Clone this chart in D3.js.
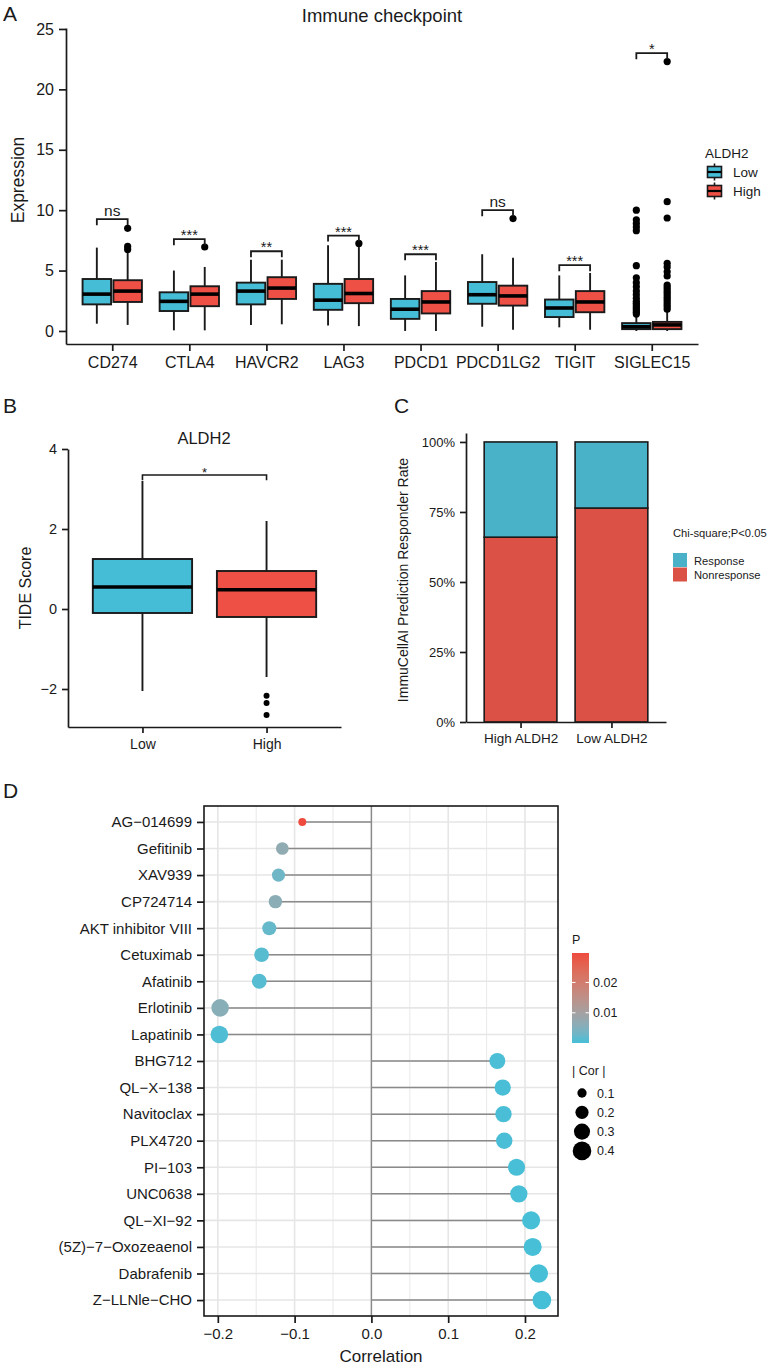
<!DOCTYPE html>
<html><head><meta charset="utf-8">
<script src="https://cdn.jsdelivr.net/npm/d3@7"></script>
<style>
body{margin:0;background:#fff}
svg{display:block;font-family:"Liberation Sans",Arial,Helvetica,sans-serif}
</style></head><body>
<svg id="c" width="770" height="1365"></svg>
<script>
// ---------------- Panel A data ----------------
const genes = ["CD274","CTLA4","HAVCR2","LAG3","PDCD1","PDCD1LG2","TIGIT","SIGLEC15"];
const groupNames = ["Low","High"];
// [lower whisker, Q1, median, Q3, upper whisker]
const lowBoxes = [
  [0.6,2.2,3.05,4.3,6.9],
  [0.05,1.65,2.45,3.2,5.0],
  [0.5,2.2,3.3,4.0,5.9],
  [0.45,1.75,2.55,3.9,7.1],
  [0.0,1.0,1.8,2.65,4.6],
  [0.35,2.25,3.0,4.05,6.35],
  [0.3,1.15,1.9,2.6,4.6],
  [0.0,0.15,0.35,0.65,1.3]
];
const highBoxes = [
  [0.5,2.4,3.3,4.2,6.5],
  [0.05,2.05,3.05,3.7,5.3],
  [0.55,2.65,3.55,4.45,5.9],
  [0.4,2.3,3.1,4.3,7.0],
  [0.0,1.45,2.4,3.3,5.7],
  [0.1,2.1,2.9,3.75,6.05],
  [0.1,1.55,2.4,3.3,4.8],
  [0.0,0.15,0.5,0.75,1.6]
];
const lowOutliers = [[],[],[],[],[],[],[],
  [10.0,9.2,8.9,8.6,8.3,5.4,4.4,4.0,3.65,3.3,3.0,2.7,2.45,2.3,2.15,2.0,1.85,1.7,1.55,1.4]];
const highOutliers = [[8.5,7.0,6.75],[6.95],[],[7.25],[],[9.3],[],
  [22.3,10.7,9.35,5.6,5.3,4.9,4.55,3.8,3.6,3.4,3.2,3.0,2.8,2.6,2.4,2.2,2.0,1.8]];
const sigLabels = ["ns","***","**","***","***","ns","***","*"];
const sigLevels = [9.25,7.6,6.6,7.9,6.35,10.0,5.45,23.0];
const expressionTicks = [0,5,10,15,20,25];

// ---------------- Panel B data ----------------
const tideGroups = ["Low","High"];
const tideBoxes = [[-2.05,-0.1,0.55,1.25,3.2],[-1.7,-0.2,0.48,0.95,2.2]];
const tideOutliers = [[],[-2.17,-2.35,-2.65]];
const tideSig = "*";
const tideSigLevel = 3.35;
const tideTicks = [-2,0,2,4];

// ---------------- Panel C data ----------------
const respGroups = ["High ALDH2","Low ALDH2"];
const nonresponsePct = [66,76.4];
const responsePct = [34,23.6];
const respTicks = [0,25,50,75,100];
const respLegend = ["Response","Nonresponse"];

// ---------------- Panel D data ----------------
const drugs = ["AG\u2212014699","Gefitinib","XAV939","CP724714","AKT inhibitor VIII","Cetuximab","Afatinib","Erlotinib","Lapatinib","BHG712","QL\u2212X\u2212138","Navitoclax","PLX4720","PI\u2212103","UNC0638","QL\u2212XI\u221292","(5Z)\u22127\u2212Oxozeaenol","Dabrafenib","Z\u2212LLNle\u2212CHO"];
const drugCor = [-0.090,-0.116,-0.121,-0.125,-0.133,-0.143,-0.146,-0.197,-0.198,0.164,0.171,0.172,0.173,0.189,0.192,0.208,0.210,0.218,0.222];
const drugP = [0.0297,0.0068,0.003,0.0062,0.0022,0.0012,0.001,0.0058,0.0006,0.0004,0.0003,0.0003,0.0003,0.0002,0.0002,0.0001,0.0001,0.0001,0.00005];
const corTicks = [-0.2,-0.1,0.0,0.1,0.2];
const corMinor = [-0.15,-0.05,0.05,0.15];
const pTicks = [0.01,0.02];
const sizeLegendVals = [0.1,0.2,0.3,0.4];

// ---------------- styles ----------------
const FONT = '"Liberation Sans", Arial, Helvetica, sans-serif';
const INK = "#1a1a1a";
const LOW_COL = "#45BDD6", HIGH_COL = "#EE5046";
const RESP_COL = "#4AB2C8", NONRESP_COL = "#DC5146";

const svg = d3.select("#c");

function styleAxis(g, fs){
  g.select(".domain").attr("stroke", INK).attr("stroke-width", 1.7);
  g.selectAll(".tick line").attr("stroke", INK).attr("stroke-width", 1.7);
  g.selectAll(".tick text").attr("fill", INK).attr("font-size", fs).attr("font-family", FONT);
}
function txt(x, y, s, fs, anchor, rot){
  const t = svg.append("text").attr("x", x).attr("y", y).text(s)
    .attr("font-size", fs).attr("fill", INK).attr("font-family", FONT)
    .attr("text-anchor", anchor || "start");
  if (rot) t.attr("transform", `rotate(${rot},${x},${y})`);
  return t;
}
function drawBox(g, cx, hw, st, y, fill, medW){
  g.append("line").attr("x1",cx).attr("x2",cx).attr("y1",y(st[0])).attr("y2",y(st[1]))
    .attr("stroke",INK).attr("stroke-width",1.9);
  g.append("line").attr("x1",cx).attr("x2",cx).attr("y1",y(st[3])).attr("y2",y(st[4]))
    .attr("stroke",INK).attr("stroke-width",1.9);
  g.append("rect").attr("x",cx-hw).attr("width",2*hw).attr("y",y(st[3])).attr("height",y(st[1])-y(st[3]))
    .attr("fill",fill).attr("stroke",INK).attr("stroke-width",1.9);
  g.append("line").attr("x1",cx-hw).attr("x2",cx+hw).attr("y1",y(st[2])).attr("y2",y(st[2]))
    .attr("stroke","#000").attr("stroke-width",medW);
}

// ================= Panel A =================
txt(3, 21, "A", 21);
txt(382, 22, "Immune checkpoint", 18.5, "middle");
const xA = d3.scalePoint().domain(genes).range([66, 698]).padding(0.6);
const yA = d3.scaleLinear().domain([-1.08, 25.08]).range([344, 28]);
const stepA = xA.step();
const offA = 0.2*stepA, hwA = 0.185*stepA;
const gA = svg.append("g");
genes.forEach((gname, i) => {
  const cx = xA(gname);
  [[lowBoxes, lowOutliers, LOW_COL, -1],[highBoxes, highOutliers, HIGH_COL, 1]].forEach(([bx, ol, col, s]) => {
    const c = cx + s*offA;
    drawBox(gA, c, hwA, bx[i], yA, col, 3.6);
    ol[i].forEach(v => gA.append("circle").attr("cx", c).attr("cy", yA(v)).attr("r", 3.6).attr("fill", "#000"));
  });
  const x1 = cx - offA, x2 = cx + offA, ly = yA(sigLevels[i]), ld = yA(sigLevels[i]-0.5);
  gA.append("path").attr("d", `M${x1},${ld}V${ly}H${x2}V${ld}`).attr("fill","none")
    .attr("stroke", INK).attr("stroke-width", 1.8);
  const isStar = sigLabels[i].includes("*");
  gA.append("text").attr("x", cx).attr("y", isStar ? ly + 1 : ly - 3).text(sigLabels[i])
    .attr("text-anchor","middle").attr("font-size", isStar ? 14.5 : 15.5).attr("fill", INK).attr("font-family", FONT);
});
svg.append("g").attr("transform","translate(66,0)")
  .call(d3.axisLeft(yA).tickValues(expressionTicks).tickFormat(d3.format("d")).tickSize(7).tickPadding(5).tickSizeOuter(0))
  .call(g => styleAxis(g, 16));
svg.append("g").attr("transform","translate(0,344)")
  .call(d3.axisBottom(xA).tickSize(7).tickPadding(6).tickSizeOuter(0))
  .call(g => styleAxis(g, 16));
txt(24, 180, "Expression", 17.5, "middle", -90);
txt(705, 158, "ALDH2", 13.5);
groupNames.forEach((n, k) => {
  const cy = 172 + k*19, cx = 714.5;
  const lg = svg.append("g");
  lg.append("line").attr("x1",cx).attr("x2",cx).attr("y1",cy-8.5).attr("y2",cy+8.5).attr("stroke",INK).attr("stroke-width",1.6);
  lg.append("rect").attr("x",cx-7).attr("y",cy-5.5).attr("width",14).attr("height",11)
    .attr("fill", k===0 ? LOW_COL : HIGH_COL).attr("stroke",INK).attr("stroke-width",1.6);
  lg.append("line").attr("x1",cx-7).attr("x2",cx+7).attr("y1",cy).attr("y2",cy).attr("stroke","#000").attr("stroke-width",2.2);
  txt(733, cy+5, n, 13.5);
});

// ================= Panel B =================
txt(3, 413, "B", 21);
txt(204, 444, "ALDH2", 16.5, "middle");
const xB = d3.scalePoint().domain(tideGroups).range([68, 341]).padding(0.6);
const yB = d3.scaleLinear().domain([-2.95, 4.0]).range([727, 449]);
const hwB = 0.4*xB.step();
const gB = svg.append("g");
tideGroups.forEach((n, i) => {
  const c = xB(n);
  drawBox(gB, c, hwB, tideBoxes[i], yB, i===0 ? LOW_COL : HIGH_COL, 3.4);
  tideOutliers[i].forEach(v => gB.append("circle").attr("cx", c).attr("cy", yB(v)).attr("r", 3).attr("fill","#000"));
});
{
  const x1 = xB(tideGroups[0]), x2 = xB(tideGroups[1]);
  const ly = yB(tideSigLevel), ld = yB(tideSigLevel-0.13);
  gB.append("path").attr("d", `M${x1},${ld}V${ly}H${x2}V${ld}`).attr("fill","none").attr("stroke",INK).attr("stroke-width",1.6);
  gB.append("text").attr("x",(x1+x2)/2).attr("y", ly+1.5).text(tideSig).attr("text-anchor","middle")
    .attr("font-size",13).attr("fill",INK).attr("font-family",FONT);
}
svg.append("g").attr("transform","translate(68,0)")
  .call(d3.axisLeft(yB).tickValues(tideTicks).tickFormat(d3.format("d")).tickSize(6).tickPadding(5).tickSizeOuter(0))
  .call(g => styleAxis(g, 14.5));
svg.append("g").attr("transform","translate(0,727)")
  .call(d3.axisBottom(xB).tickSize(6).tickPadding(6).tickSizeOuter(0))
  .call(g => styleAxis(g, 14));
txt(31, 588, "TIDE Score", 16, "middle", -90);

// ================= Panel C =================
txt(394, 413, "C", 21);
const xC = d3.scalePoint().domain(respGroups).range([466, 666]).padding(0.6);
const yC = d3.scaleLinear().domain([0, 103.2]).range([722, 433]);
const bwC = 0.8*xC.step();
const gC = svg.append("g");
respGroups.forEach((n, i) => {
  const x0 = xC(n) - bwC/2;
  gC.append("rect").attr("x", x0).attr("width", bwC).attr("y", yC(nonresponsePct[i])).attr("height", yC(0)-yC(nonresponsePct[i]))
    .attr("fill", NONRESP_COL).attr("stroke", INK).attr("stroke-width", 1.6);
  gC.append("rect").attr("x", x0).attr("width", bwC).attr("y", yC(nonresponsePct[i]+responsePct[i]))
    .attr("height", yC(nonresponsePct[i]) - yC(nonresponsePct[i]+responsePct[i]))
    .attr("fill", RESP_COL).attr("stroke", INK).attr("stroke-width", 1.6);
});
svg.append("g").attr("transform","translate(466,0)")
  .call(d3.axisLeft(yC).tickValues(respTicks).tickFormat(d => d + "%").tickSize(6).tickPadding(5).tickSizeOuter(0))
  .call(g => styleAxis(g, 13));
svg.append("g").attr("transform","translate(0,722)")
  .call(d3.axisBottom(xC).tickSize(6).tickPadding(5).tickSizeOuter(0))
  .call(g => styleAxis(g, 13.5));
txt(408, 580, "ImmuCellAI Prediction Responder Rate", 14, "middle", -90);
txt(673, 537, "Chi-square;P<0.05", 11.2);
respLegend.forEach((n, k) => {
  svg.append("rect").attr("x", 673).attr("y", 553 + k*14.5).attr("width", 14).attr("height", 14)
    .attr("fill", k===0 ? RESP_COL : NONRESP_COL);
  txt(694, 564.5 + k*14.5, n, 11.2);
});

// ================= Panel D =================
txt(3, 798, "D", 21);
const xD = d3.scaleLinear().domain([-0.218, 0.243]).range([204, 558]);
const yD = d3.scalePoint().domain(drugs).range([806, 1316]).padding(0.6);
const pExt = d3.extent(drugP);
const colD = d3.scaleLinear().domain(pExt).range(["#45BFD7", "#EE4B3E"]).interpolate(d3.interpolateLab);
const absCor = drugCor.map(Math.abs);
const corExt = d3.extent(absCor);
// area-style size scale (like ggplot scale_size)
const rArea = d3.scaleSqrt().domain([0, corExt[1] - corExt[0]]).range([4, 9.3]);
const rD = v => rArea(v - corExt[0]);
const gD = svg.append("g");
corMinor.forEach(v => gD.append("line").attr("x1", xD(v)).attr("x2", xD(v)).attr("y1", 806).attr("y2", 1316)
  .attr("stroke", "#ebebeb").attr("stroke-width", 1.1));
corTicks.forEach(v => gD.append("line").attr("x1", xD(v)).attr("x2", xD(v)).attr("y1", 806).attr("y2", 1316)
  .attr("stroke", "#e6e6e6").attr("stroke-width", 1.6));
drugs.forEach(d => gD.append("line").attr("x1", 204).attr("x2", 558).attr("y1", yD(d)).attr("y2", yD(d))
  .attr("stroke", "#e6e6e6").attr("stroke-width", 1.6));
gD.append("line").attr("x1", xD(0)).attr("x2", xD(0)).attr("y1", 806).attr("y2", 1316)
  .attr("stroke", "#8a8a8a").attr("stroke-width", 1.4);
drugs.forEach((d, i) => {
  gD.append("line").attr("x1", xD(0)).attr("x2", xD(drugCor[i])).attr("y1", yD(d)).attr("y2", yD(d))
    .attr("stroke", "#8a8a8a").attr("stroke-width", 1.5);
});
drugs.forEach((d, i) => {
  gD.append("circle").attr("cx", xD(drugCor[i])).attr("cy", yD(d)).attr("r", rD(absCor[i])).attr("fill", colD(drugP[i]));
});
gD.append("rect").attr("x", 204).attr("y", 806).attr("width", 354).attr("height", 510)
  .attr("fill", "none").attr("stroke", INK).attr("stroke-width", 1.6);
svg.append("g").attr("transform","translate(204,0)")
  .call(d3.axisLeft(yD).tickSize(7).tickPadding(5).tickSizeOuter(0))
  .call(g => { styleAxis(g, 15); g.select(".domain").remove(); });
svg.append("g").attr("transform","translate(0,1316)")
  .call(d3.axisBottom(xD).tickValues(corTicks).tickFormat(d3.format(".1f")).tickSize(7).tickPadding(5).tickSizeOuter(0))
  .call(g => { styleAxis(g, 15); g.select(".domain").remove(); });
txt(381, 1362, "Correlation", 17, "middle");
txt(572, 944, "P", 12.5);
const pScale = d3.scaleLinear().domain(pExt).range([1043, 953]);
const defs = svg.append("defs");
const grad = defs.append("linearGradient").attr("id", "pgrad").attr("x1", 0).attr("y1", 1).attr("x2", 0).attr("y2", 0);
d3.range(0, 1.0001, 0.1).forEach(t => grad.append("stop").attr("offset", t)
  .attr("stop-color", colD(pExt[0] + t*(pExt[1]-pExt[0]))));
svg.append("rect").attr("x", 572).attr("y", 953).attr("width", 17).attr("height", 90).attr("fill", "url(#pgrad)");
pTicks.forEach(v => {
  const yy = pScale(v);
  svg.append("line").attr("x1", 572).attr("x2", 575.5).attr("y1", yy).attr("y2", yy).attr("stroke", "#fff").attr("stroke-width", 1);
  svg.append("line").attr("x1", 585.5).attr("x2", 589).attr("y1", yy).attr("y2", yy).attr("stroke", "#fff").attr("stroke-width", 1);
  txt(593, yy + 4.5, d3.format(".2f")(v), 12.5);
});
txt(572, 1075, "| Cor |", 12.5);
const rLeg = d3.scaleSqrt().domain([0, 0.4]).range([0, 9.3]);
sizeLegendVals.forEach((v, k) => {
  const cy = 1093 + k*19.3;
  svg.append("circle").attr("cx", 582).attr("cy", cy).attr("r", rLeg(v)).attr("fill", "#000");
  txt(597, cy + 4.5, d3.format(".1f")(v), 12.5);
});
</script>
</body></html>
